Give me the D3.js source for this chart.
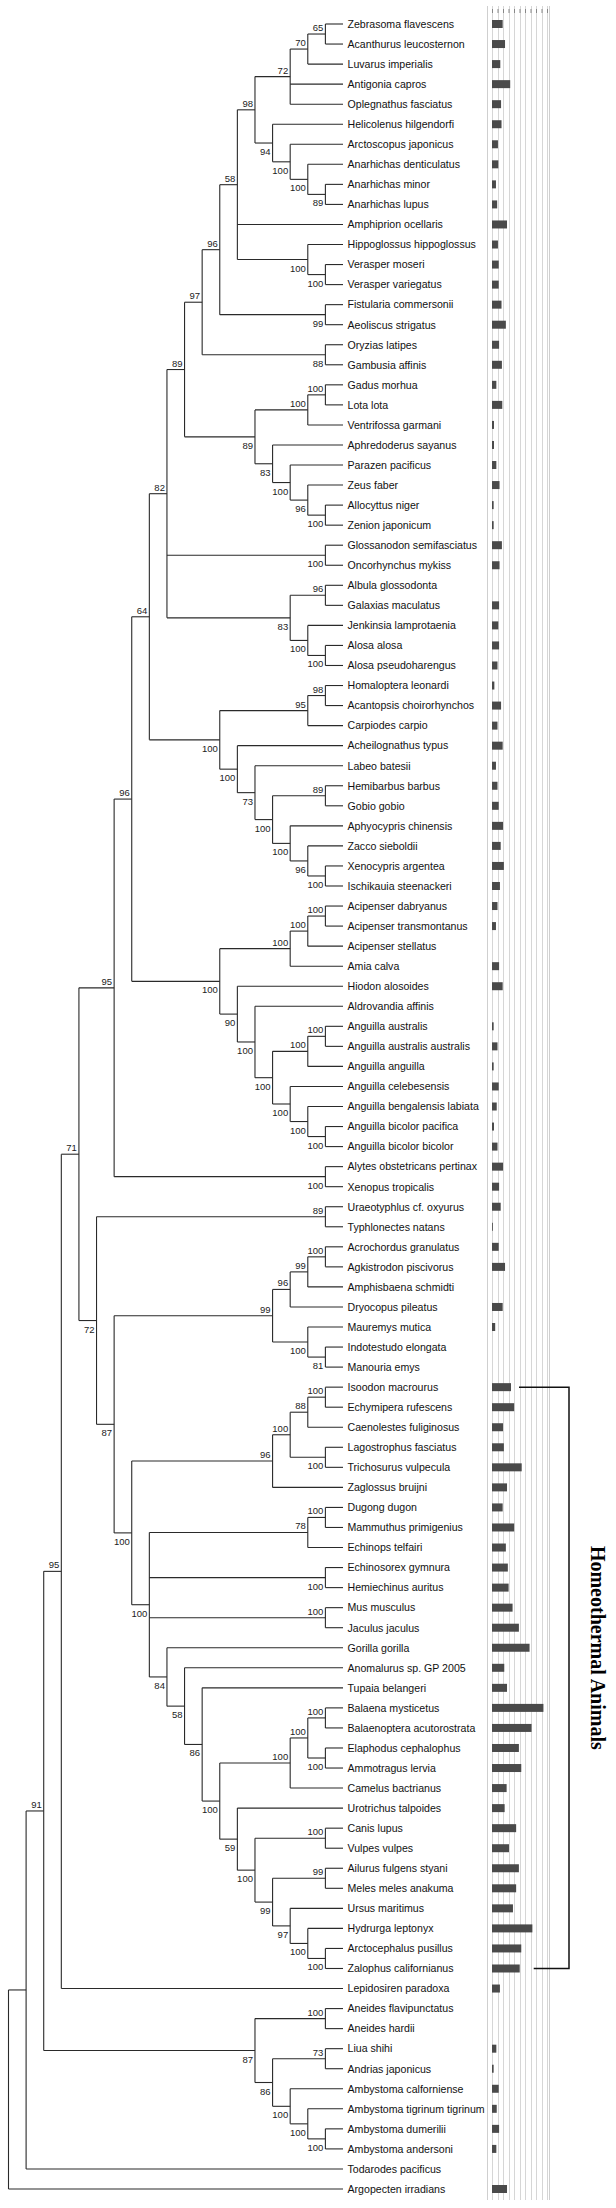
<!DOCTYPE html>
<html><head><meta charset="utf-8">
<script src="https://cdn.jsdelivr.net/npm/d3@7"></script>
<style>
html,body{margin:0;padding:0;background:#fff;}
svg{display:block;}
</style></head>
<body>
<svg id="chart" width="616" height="2208"></svg>
<script>
// ---------- DATA ----------
const species = [
"Zebrasoma flavescens","Acanthurus leucosternon","Luvarus imperialis","Antigonia capros","Oplegnathus fasciatus",
"Helicolenus hilgendorfi","Arctoscopus japonicus","Anarhichas denticulatus","Anarhichas minor","Anarhichas lupus",
"Amphiprion ocellaris","Hippoglossus hippoglossus","Verasper moseri","Verasper variegatus","Fistularia commersonii",
"Aeoliscus strigatus","Oryzias latipes","Gambusia affinis","Gadus morhua","Lota lota",
"Ventrifossa garmani","Aphredoderus sayanus","Parazen pacificus","Zeus faber","Allocyttus niger",
"Zenion japonicum","Glossanodon semifasciatus","Oncorhynchus mykiss","Albula glossodonta","Galaxias maculatus",
"Jenkinsia lamprotaenia","Alosa alosa","Alosa pseudoharengus","Homaloptera leonardi","Acantopsis choirorhynchos",
"Carpiodes carpio","Acheilognathus typus","Labeo batesii","Hemibarbus barbus","Gobio gobio",
"Aphyocypris chinensis","Zacco sieboldii","Xenocypris argentea","Ischikauia steenackeri","Acipenser dabryanus",
"Acipenser transmontanus","Acipenser stellatus","Amia calva","Hiodon alosoides","Aldrovandia affinis",
"Anguilla australis","Anguilla australis australis","Anguilla anguilla","Anguilla celebesensis","Anguilla bengalensis labiata",
"Anguilla bicolor pacifica","Anguilla bicolor bicolor","Alytes obstetricans pertinax","Xenopus tropicalis","Uraeotyphlus cf. oxyurus",
"Typhlonectes natans","Acrochordus granulatus","Agkistrodon piscivorus","Amphisbaena schmidti","Dryocopus pileatus",
"Mauremys mutica","Indotestudo elongata","Manouria emys","Isoodon macrourus","Echymipera rufescens",
"Caenolestes fuliginosus","Lagostrophus fasciatus","Trichosurus vulpecula","Zaglossus bruijni","Dugong dugon",
"Mammuthus primigenius","Echinops telfairi","Echinosorex gymnura","Hemiechinus auritus","Mus musculus",
"Jaculus jaculus","Gorilla gorilla","Anomalurus sp. GP 2005","Tupaia belangeri","Balaena mysticetus",
"Balaenoptera acutorostrata","Elaphodus cephalophus","Ammotragus lervia","Camelus bactrianus","Urotrichus talpoides",
"Canis lupus","Vulpes vulpes","Ailurus fulgens styani","Meles meles anakuma","Ursus maritimus",
"Hydrurga leptonyx","Arctocephalus pusillus","Zalophus californianus","Lepidosiren paradoxa","Aneides flavipunctatus",
"Aneides hardii","Liua shihi","Andrias japonicus","Ambystoma calforniense","Ambystoma tigrinum tigrinum",
"Ambystoma dumerilii","Ambystoma andersoni","Todarodes pacificus","Argopecten irradians"
];

const barValues = [
1.94,2.37,1.51,3.31,1.65, 1.73,1.08,1.15,0.72,0.94,
2.73,1.08,1.22,1.22,1.73, 2.52,1.29,1.80,0.79,1.87,
0.36,0.36,0.79,1.37,0.30, 0.30,1.80,1.37,0,1.29,
1.15,1.29,1.00,0.43,1.65, 1.00,1.94,0.72,1.00,1.22,
2.01,1.58,2.16,1.44,1.00, 0.72,0,1.29,1.94,0,
0.30,1.00,0.30,1.22,0.86, 0.36,1.00,2.01,1.29,1.58,
0.15,1.22,2.37,0,1.94, 0.58,0,0,3.45,4.03,
2.01,2.16,5.40,2.73,1.94, 4.03,2.52,2.88,3.02,3.74,
4.89,6.83,2.23,2.73,9.35, 7.19,4.89,5.32,2.66,2.30,
4.39,3.09,4.89,4.39,3.81, 7.34,5.32,5.04,1.44,0,
0,0.79,0.30,1.22,0.86, 1.29,0.79,0,2.73
];

const barTicks = [0,1,2,3,4,5,6,7,8,9,10];

// tree topology (Newick pieces): numbers index species, labels after ")" are bootstrap values
const cladePerciformes = "(((((0,1)65,2)70,3,4)72,(5,(6,(7,(8,9)89)100)100)94)98,10,(11,(12,13)100)100)58";
const cladeGadiformes  = "(((18,19)100,20)100,(21,(22,(23,(24,25)100)96)100)83)89";
const cladeClupeo      = "((28,29)96,(30,(31,32)100)100)83";
const cladeCyprini     = "(((33,34)98,35)95,(36,(37,((38,39)89,(40,(41,(42,43)100)96)100)100)73)100)100";
const cladeAcipAnguil  = "((((44,45)100,46)100,47)100,(48,(49,(((50,51)100,52)100,(53,(54,(55,56)100)100)100)100)100)90)100";
const cladeReptBirds   = "((((61,62)100,63)99,64)96,(65,(66,67)81)100)99";
const cladeMarsupials  = "((((68,69)100,70)88,(71,72)100)100,73)96";
const cladeLaurasia    = "((((84,85)100,(86,87)100)100,88)100,(89,((90,91)100,((92,93)99,(94,(95,(96,97)100)100)97)99)100)59)100";
const cladeSalamanders = "((99,100)100,((101,102)73,(103,(104,(105,106)100)100)100)86)87";

const groupLabel = "Homeothermal Animals";
const groupFrom = "Isoodon macrourus", groupTo = "Zalophus californianus";

// assemble Newick
const n96 = "(" + cladePerciformes + ",(14,15)99)96";
const n97 = "(" + n96 + ",(16,17)88)97";
const n89 = "(" + n97 + "," + cladeGadiformes + ")89";
const n82 = "(" + n89 + ",(26,27)100," + cladeClupeo + ")82";
const n64 = "(" + n82 + "," + cladeCyprini + ")64";
const n96b = "(" + n64 + "," + cladeAcipAnguil + ")96";
const n95 = "(" + n96b + ",(57,58)100)95";
const n84 = "(81,(82,(83," + cladeLaurasia + ")86)58)84";
const n100y = "(((74,75)100,76)78,(77,78)100,(79,80)100," + n84 + ")100";
const nMam = "(" + cladeMarsupials + "," + n100y + ")100";
const n87 = "(" + cladeReptBirds + "," + nMam + ")87";
const n72 = "((59,60)89," + n87 + ")72";
const n71 = "(" + n95 + "," + n72 + ")71";
const n95c = "(" + n71 + ",98)95";
const n91 = "(" + n95c + "," + cladeSalamanders + ")91";
const newick = "((" + n91 + ",107),108)";

// ---------- PARSE ----------
function parseNewick(s){
  let i=0;
  function node(){
    const n={children:[]};
    if(s[i]==='('){
      i++;
      n.children.push(node());
      while(s[i]===','){i++; n.children.push(node());}
      i++;
    }
    let tok='';
    while(i<s.length && !',();'.includes(s[i])) tok+=s[i++];
    if(n.children.length) n.support=tok; else n.leaf=+tok;
    return n;
  }
  return node();
}
const root = d3.hierarchy(parseNewick(newick), d=>d.children.length?d.children:null);

// ---------- SCALES ----------
const svg = d3.select("#chart");
const yLeaf = d3.scaleLinear().domain([0, species.length-1]).range([24, 2189]);
const xTree = d3.scaleLinear().domain([root.height, 0]).range([8.5, 343]);
const xBar  = d3.scaleLinear().domain([0, 10]).range([492, 547]);

root.eachAfter(n=>{
  n.px = xTree(n.height);
  if(!n.children){ n.py = yLeaf(n.data.leaf); }
  else { n.py = (n.children[0].py + n.children[n.children.length-1].py)/2; }
});

// ---------- TREE ----------
const tree = svg.append("g").attr("fill","none").attr("stroke","#2a2a2a").attr("stroke-width",1.1);
root.descendants().filter(n=>n.children).forEach(n=>{
  const c = n.children;
  tree.append("path").attr("d",`M${n.px},${c[0].py}V${c[c.length-1].py}`);
  c.forEach(ch=>tree.append("path").attr("d",`M${n.px},${ch.py}H${ch.px}`));
});

// leaf labels
svg.append("g").selectAll("text").data(root.leaves()).join("text")
  .attr("x",d=>d.px+4.5).attr("y",d=>d.py).attr("dy","0.36em")
  .attr("font-family","Liberation Sans, Arial, sans-serif").attr("font-size",10.6).attr("fill","#111")
  .text(d=>species[d.data.leaf]);

// support values
svg.append("g").selectAll("text").data(root.descendants().filter(n=>n.children && n.parent && n.data.support)).join("text")
  .attr("x",d=>d.px-2).attr("text-anchor","end")
  .attr("y",d=>{
    const sib = d.parent.children, idx = sib.indexOf(d);
    const above = idx%2===0 && idx<sib.length-1;
    return above ? d.py-3 : d.py+12;
  })
  .attr("font-family","Liberation Sans, Arial, sans-serif").attr("font-size",9.5).attr("fill","#222")
  .text(d=>d.data.support);

// ---------- BAR PANEL ----------
const panelTop = 6, panelBottom = 2200;
const panel = svg.append("g");
panel.append("rect").attr("x",487).attr("y",panelTop).attr("width",62).attr("height",panelBottom-panelTop)
  .attr("fill","#fff");
[487.5, 549.5].forEach(x=>panel.append("line").attr("x1",x).attr("x2",x).attr("y1",panelTop).attr("y2",panelBottom)
  .attr("stroke","#cfcfcf").attr("stroke-width",1));
panel.selectAll("line.grid").data(barTicks).join("line").attr("class","grid")
  .attr("x1",d=>Math.round(xBar(d))+0.5).attr("x2",d=>Math.round(xBar(d))+0.5)
  .attr("y1",panelTop).attr("y2",panelBottom).attr("stroke","#d6d6d6").attr("stroke-width",1);
const axis = d3.axisTop(xBar).tickValues(barTicks).tickSize(4).tickFormat("");
const ag = panel.append("g").attr("transform","translate(0,13)").call(axis);
ag.select(".domain").remove();
ag.selectAll(".tick line").attr("stroke","#888");

panel.selectAll("rect.bar").data(barValues.map((v,i)=>({v,i})).filter(d=>d.v>0)).join("rect").attr("class","bar")
  .attr("x",xBar(0)).attr("y",d=>yLeaf(d.i)-4).attr("height",8)
  .attr("width",d=>xBar(d.v)-xBar(0)).attr("fill","#4a4a4a");

// ---------- GROUP BRACKET ----------
const iA = species.indexOf(groupFrom), iB = species.indexOf(groupTo);
const yA = yLeaf(iA), yB = yLeaf(iB), bx = 569;
const br = svg.append("g").attr("fill","none").attr("stroke","#111").attr("stroke-width",1.5);
br.append("path").attr("d",`M${xBar(barValues[iA])+8},${yA}H${bx}V${yB}H${xBar(barValues[iB])+14}`);
svg.append("text").attr("transform",`translate(591,${(yA+yB)/2-30}) rotate(90)`)
  .attr("text-anchor","middle").attr("font-family","Liberation Serif, Times New Roman, serif")
  .attr("font-weight","bold").attr("font-size",20).attr("fill","#000").text(groupLabel);
</script>
</body></html>
